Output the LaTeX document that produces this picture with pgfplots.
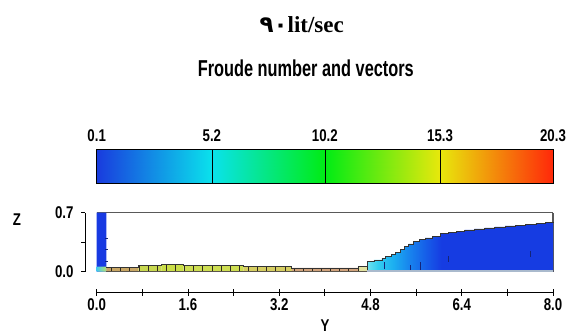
\documentclass[border=0pt]{standalone}
\usepackage{pgfplots}
\pgfplotsset{compat=1.18}
\usepackage{fontspec}
\setmainfont{Liberation Sans}
\newfontfamily\labfont[FakeStretch=0.78]{Liberation Sans}
\newfontfamily\headfont[FakeStretch=0.71]{Liberation Sans}
\newfontfamily\serifhead{Liberation Serif}
\newfontfamily\arabicdigits{DejaVu Sans}

\newcommand{\ticklab}{\labfont\bfseries\fontsize{17bp}{17bp}\selectfont}

% colours of the flow field
\definecolor{colblue}{RGB}{24,58,226}
\definecolor{toeA}{RGB}{70,200,235}
\definecolor{toeB}{RGB}{180,225,110}
\definecolor{segA}{RGB}{200,166,100}
\definecolor{segB}{RGB}{200,216,80}
\definecolor{segC}{RGB}{202,222,72}
\definecolor{segD}{RGB}{206,222,82}
\definecolor{segE}{RGB}{214,206,98}
\definecolor{segF}{RGB}{208,162,124}
\definecolor{segG}{RGB}{226,226,160}
\definecolor{jA}{RGB}{110,225,240}
\definecolor{jB}{RGB}{50,205,240}
\definecolor{jC}{RGB}{28,175,240}
\definecolor{jD}{RGB}{24,135,238}
\definecolor{jE}{RGB}{22,92,232}
\definecolor{jF}{RGB}{22,60,226}
\definecolor{vec}{RGB}{50,42,30}
\definecolor{vecb}{RGB}{20,36,120}
\definecolor{bedline}{RGB}{170,186,205}

\pgfdeclarehorizontalshading{jumpshade}{100bp}{color(0bp)=(jA); color(25bp)=(jA); color(28bp)=(jB); color(32bp)=(jC); color(36bp)=(jD); color(41bp)=(jE); color(45bp)=(jF); color(100bp)=(jF)}

\pgfplotsset{colormap={froude}{rgb255(1pt)=(25,60,222) rgb255(52pt)=(10,226,236) rgb255(102pt)=(0,236,20) rgb255(153pt)=(232,232,12) rgb255(203pt)=(255,40,10)}}

\begin{document}
\begin{tikzpicture}
\useasboundingbox (0,0) rectangle (567bp,-336bp);

% headings
\node[anchor=base, inner sep=0] at (301.7bp,-32.5bp)
  {\serifhead\bfseries\fontsize{23bp}{23bp}\selectfont{\arabicdigits\bfseries ٩٠}lit/sec};
\node[anchor=base, inner sep=0] at (305.8bp,-76bp)
  {\headfont\bfseries\fontsize{23bp}{23bp}\selectfont Froude number and vectors};

% colour scale of the Froude number
\begin{axis}[at={(96.7bp,-183.5bp)}, anchor=south west, scale only axis,
  width=456.3bp, height=34bp,
  xmin=0.1, xmax=20.3, ymin=0, ymax=1,
  colormap name=froude, point meta min=0.1, point meta max=20.3,
  xtick={0.1,5.2,10.2,15.3,20.3}, xticklabels={0.1,5.2,10.2,15.3,20.3},
  xticklabel pos=upper, ytick=\empty, major tick length=0pt,
  xmajorgrids, grid style={black, line width=0.7pt},
  axis line style={black, line width=0.8pt}, axis on top,
  xticklabel style={font=\ticklab, yshift=4bp}]
\addplot[patch, patch type=rectangle, shader=interp, point meta=explicit] coordinates {
  (0.1,0) [0.1]   (5.2,0) [5.2]   (5.2,1) [5.2]   (0.1,1) [0.1]
  (5.2,0) [5.2]   (10.2,0) [10.2] (10.2,1) [10.2] (5.2,1) [5.2]
  (10.2,0) [10.2] (15.3,0) [15.3] (15.3,1) [15.3] (10.2,1) [10.2]
  (15.3,0) [15.3] (20.3,0) [20.3] (20.3,1) [20.3] (15.3,1) [15.3]
};
\end{axis}

% flow section
\begin{axis}[at={(96.7bp,-271.7bp)}, anchor=south west, scale only axis,
  width=456.3bp, height=59bp,
  xmin=0, xmax=8, ymin=0, ymax=0.7,
  axis x line*=top, axis y line*=right, xtick=\empty, ytick=\empty,
  axis line style={draw=black!65, line width=1.2pt},
  no markers, clip=false]
% reservoir upstream of the gate
\addplot[draw=none, fill=colblue] coordinates {(0,0) (0,0.7) (0.17,0.7) (0.17,0)} \closedcycle;
\addplot[draw=none, left color=toeA, right color=toeB] coordinates {(0,0) (0,0.06) (0.17,0.06) (0.17,0)} \closedcycle;
% subcritical flow after the jump
\addplot[draw=none, shade, shading=jumpshade, const plot] coordinates {
  (4.74,0.12) (4.86,0.14) (5.00,0.16) (5.06,0.18) (5.16,0.20) (5.24,0.23)
  (5.32,0.26) (5.40,0.30) (5.47,0.33) (5.55,0.36) (5.66,0.38) (5.76,0.40)
  (5.88,0.42) (6.02,0.45) (6.16,0.465) (6.30,0.48) (6.45,0.495) (6.62,0.508)
  (6.80,0.52) (6.98,0.532) (7.16,0.543) (7.34,0.554) (7.52,0.565) (7.70,0.576)
  (7.86,0.586) (8.0,0.593)} \closedcycle;
% supercritical jet
\addplot[draw=none, fill=segA] coordinates {(0.17,0) (0.17,0.055) (0.73,0.055) (0.73,0)} \closedcycle;
\addplot[draw=none, fill=segB] coordinates {(0.73,0) (0.73,0.075) (1.14,0.075) (1.14,0)} \closedcycle;
\addplot[draw=none, fill=segC] coordinates {(1.14,0) (1.14,0.09) (1.52,0.09) (1.52,0)} \closedcycle;
\addplot[draw=none, fill=segD] coordinates {(1.52,0) (1.52,0.078) (2.57,0.078) (2.57,0)} \closedcycle;
\addplot[draw=none, fill=segE] coordinates {(2.57,0) (2.57,0.06) (3.42,0.06) (3.42,0)} \closedcycle;
\addplot[draw=none, fill=segF] coordinates {(3.42,0) (3.42,0.045) (4.58,0.045) (4.58,0)} \closedcycle;
\addplot[draw=none, fill=segG] coordinates {(4.58,0) (4.58,0.06) (4.74,0.06) (4.74,0)} \closedcycle;
% velocity vectors in the jet
\addplot[ycomb, color=vec, line width=0.7pt] coordinates {
  (0.26,0.055) (0.42,0.055) (0.58,0.055) (0.74,0.075) (0.90,0.075) (1.06,0.075)
  (1.22,0.09) (1.38,0.09) (1.54,0.078) (1.70,0.078) (1.86,0.078) (2.02,0.078)
  (2.18,0.078) (2.34,0.078) (2.50,0.078) (2.66,0.06) (2.82,0.06) (2.98,0.06)
  (3.14,0.06) (3.30,0.06) (3.46,0.045) (3.62,0.045) (3.78,0.045) (3.94,0.045)
  (4.10,0.045) (4.26,0.045) (4.42,0.045) (4.58,0.06) (4.74,0.12)};
% velocity vectors in the reservoir and below the roller
\addplot[quiver={u=\thisrow{u}, v=\thisrow{v}}, color=vecb, line width=0.6pt, -] table {
  x    y    u    v
  0.15 0.40 0.04 0
  0.15 0.26 0.04 0
  0.15 0.12 0.04 0
  5.05 0.03 0    0.08
  5.49 0.02 0    0.06
  5.67 0.02 0    0.10
  6.16 0.12 0    0.07
  7.60 0.18 0    0.07
};
% free surface
\addplot[const plot, color=black!80, line width=0.7pt] coordinates {
  (0.17,0.055) (0.73,0.075) (1.14,0.09) (1.52,0.078) (2.57,0.06) (3.42,0.045)
  (4.58,0.06) (4.74,0.12) (4.86,0.14) (5.00,0.16) (5.06,0.18) (5.16,0.20) (5.24,0.23)
  (5.32,0.26) (5.40,0.30) (5.47,0.33) (5.55,0.36) (5.66,0.38) (5.76,0.40)
  (5.88,0.42) (6.02,0.45) (6.16,0.465) (6.30,0.48) (6.45,0.495) (6.62,0.508)
  (6.80,0.52) (6.98,0.532) (7.16,0.543) (7.34,0.554) (7.52,0.565) (7.70,0.576)
  (7.86,0.586) (8.0,0.593)};
% channel bed
\addplot[color=vec!80, line width=0.8pt] coordinates {(0.17,0.004) (4.74,0.004)};
\addplot[color=bedline, line width=1.4pt] coordinates {(4.74,0.006) (8.0,0.006)};
\end{axis}

% Z scale
\begin{axis}[at={(85bp,-271.7bp)}, anchor=south west, scale only axis,
  width=10bp, height=59bp, xmin=0, xmax=1, ymin=0, ymax=0.7,
  axis y line*=left, axis x line=none,
  ytick={0,0.35,0.7}, yticklabels={0.0,,0.7},
  tick align=outside, major tick length=4bp,
  tick style={black, line width=0.8pt}, axis line style={black, line width=0.8pt},
  yticklabel style={font=\ticklab, xshift=-4bp}]
\end{axis}
\node[anchor=base, inner sep=0] at (17bp,-225bp) {\ticklab Z};

% Y scale
\begin{axis}[at={(96.7bp,-292bp)}, anchor=south west, scale only axis,
  width=456.3bp, height=10bp, xmin=0, xmax=8, ymin=0, ymax=1,
  axis x line*=bottom, axis y line=none,
  xtick={0,0.8,1.6,2.4,3.2,4.0,4.8,5.6,6.4,7.2,8.0},
  xticklabels={0.0,,1.6,,3.2,,4.8,,6.4,,8.0},
  tick align=center, major tick length=7bp,
  tick style={black, line width=0.8pt}, axis line style={black, line width=0.8pt},
  xticklabel style={font=\ticklab}]
\end{axis}
\node[anchor=base, inner sep=0] at (325bp,-331bp) {\ticklab Y};
\end{tikzpicture}
\end{document}
